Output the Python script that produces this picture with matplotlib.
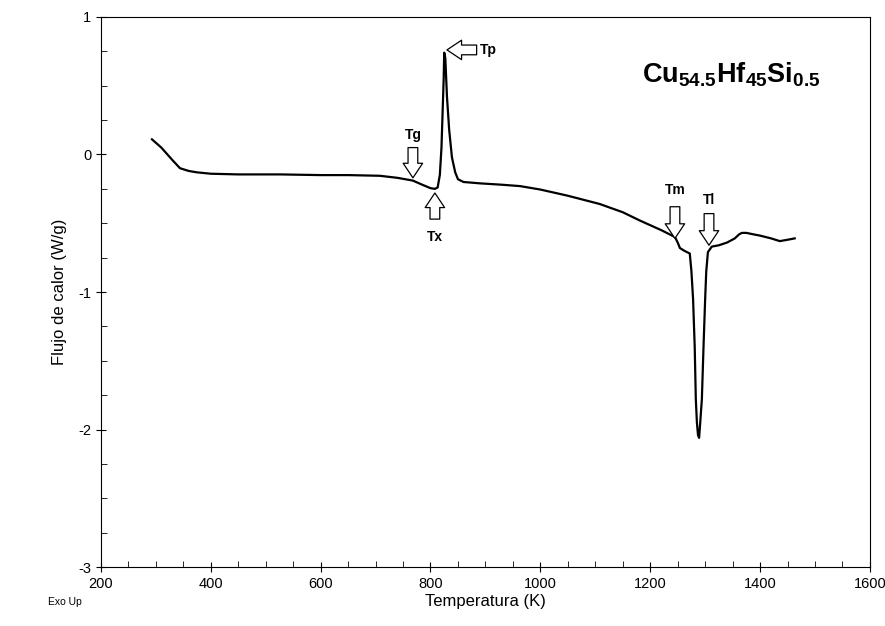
'''
    DSC trace of Cu54.5Hf45Si0.5 with the characteristic temperatures marked
'''

import numpy as np
import matplotlib
matplotlib.use('Agg')
import matplotlib.pyplot as plt
from matplotlib.ticker import MultipleLocator, FormatStrFormatter

plt.rcParams['font.family'] = ['Liberation Sans', 'DejaVu Sans']
plt.rcParams['mathtext.fontset'] = 'custom'
plt.rcParams['mathtext.bf'] = 'Liberation Sans:bold'
plt.rcParams['mathtext.rm'] = 'Liberation Sans'
plt.rcParams['axes.unicode_minus'] = False

# temperature (K) and heat flow (W/g)
temp = [293, 310, 330, 344, 360, 375, 400, 450, 526, 600, 650, 708, 740,
        768, 785, 800, 808, 813, 817, 820, 822, 824, 825, 827, 830, 834,
        839, 845, 850, 860, 875, 890, 930, 963, 1000, 1050, 1108, 1150,
        1181, 1220, 1245, 1250, 1254, 1262, 1272, 1275, 1278, 1281, 1283,
        1285, 1287, 1289, 1291, 1294, 1297, 1300, 1302, 1305, 1312, 1325,
        1340, 1354, 1362, 1367, 1375, 1387, 1400, 1420, 1436, 1450, 1463]
flow = [0.11, 0.05, -0.04, -0.10, -0.12, -0.13, -0.14, -0.145, -0.145,
        -0.15, -0.15, -0.155, -0.17, -0.19, -0.22, -0.245, -0.25, -0.24,
        -0.15, 0.05, 0.30, 0.55, 0.74, 0.70, 0.42, 0.18, -0.02, -0.13,
        -0.18, -0.20, -0.205, -0.21, -0.22, -0.23, -0.255, -0.30, -0.36,
        -0.42, -0.48, -0.55, -0.60, -0.64, -0.68, -0.70, -0.72, -0.85,
        -1.05, -1.40, -1.78, -1.95, -2.04, -2.06, -1.95, -1.78, -1.40,
        -1.05, -0.85, -0.71, -0.67, -0.66, -0.64, -0.61, -0.58, -0.57,
        -0.57, -0.58, -0.59, -0.61, -0.63, -0.62, -0.61]

# markers: label, arrow tail (T, W/g), arrow tip, label position
marks = [
    ('Tg', (768, 0.05), (768, -0.17), (768, 0.14)),
    ('Tx', (808, -0.47), (808, -0.28), (808, -0.60)),
    ('Tp', (884, 0.76), (830, 0.76), (905, 0.76)),
    ('Tm', (1245, -0.38), (1245, -0.61), (1245, -0.26)),
    ('Tl', (1307, -0.43), (1307, -0.66), (1307, -0.33)),
]

fig = plt.figure(figsize=(8.85, 6.26), dpi=100)
ax = fig.add_axes([0.114, 0.094, 0.869, 0.879])

ax.plot(temp, flow, color='black', linewidth=1.6)

for name, tail, tip, pos in marks:
    ax.annotate('', xy=tip, xytext=tail,
                arrowprops=dict(arrowstyle='simple,head_width=1.0,head_length=0.75,tail_width=0.5',
                                fc='white', ec='black', lw=0.9,
                                shrinkA=0, shrinkB=0, mutation_scale=14))
    ax.text(pos[0], pos[1], name, fontsize=10, fontweight='bold',
            ha='center', va='center')

ax.text(1347, 0.58, r'$\mathbf{Cu_{54.5}Hf_{45}Si_{0.5}}$', fontsize=19.5,
        ha='center', va='center')

ax.set_xlim(200, 1600)
ax.set_ylim(-3, 1)
ax.xaxis.set_major_locator(MultipleLocator(200))
ax.xaxis.set_minor_locator(MultipleLocator(50))
ax.yaxis.set_major_locator(MultipleLocator(1))
ax.yaxis.set_minor_locator(MultipleLocator(0.25))
ax.yaxis.set_major_formatter(FormatStrFormatter('%d'))
ax.tick_params(which='major', direction='inout', length=7, labelsize=10.5)
ax.tick_params(which='minor', direction='in', length=4)

ax.set_xlabel('Temperatura (K)', fontsize=12, labelpad=2)
ax.set_ylabel('Flujo de calor (W/g)', fontsize=12, labelpad=8)
fig.text(0.054, 0.033, 'Exo Up', fontsize=7.5)

fig.savefig('out.png', dpi=100)
